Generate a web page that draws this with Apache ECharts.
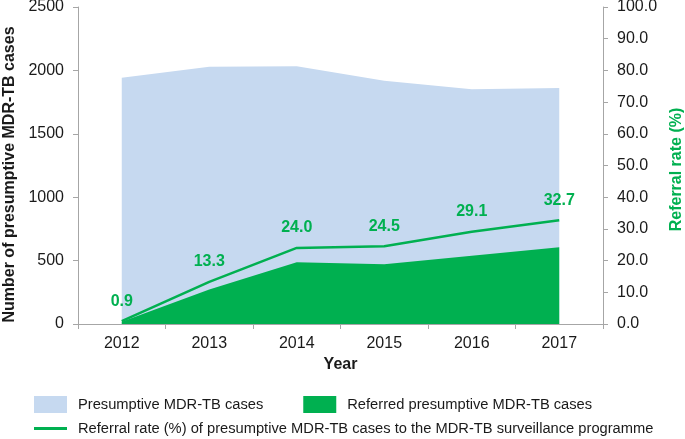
<!DOCTYPE html>
<html><head><meta charset="utf-8">
<script src="https://cdn.jsdelivr.net/npm/echarts@6/dist/echarts.min.js"></script>
<style>html,body{margin:0;padding:0;background:#fff}#c{width:685px;height:439px}</style>
</head><body><div id="c"></div>
<script>
const years = ['2012','2013','2014','2015','2016','2017'];
const presumptive = [1942, 2029, 2032, 1919, 1851, 1861];
const referred = [18, 272, 487, 472, 539, 606];
const referralRate = [0.9, 13.3, 24.0, 24.5, 29.1, 32.7];
const leftTicks = {min: 0, max: 2500, interval: 500};
const rightTicks = {min: 0, max: 100, interval: 10};

const FONT = 'Liberation Sans, Arial, sans-serif';
const BLUE = '#c6d9f0', GREEN = '#00b050', AX = '#a6a6a6', TXT = '#1a1a1a';
const chart = echarts.init(document.getElementById('c'), null, {renderer: 'canvas'});
chart.setOption({
  animation: false,
  textStyle: {fontFamily: FONT},
  grid: {left: 78, right: 82, top: 7, bottom: 115, containLabel: false, outerBoundsMode: 'none'},
  legend: [
    {left: 34, top: 396, padding: 0, itemWidth: 33, itemHeight: 17, itemGap: 40, icon: 'rect',
     textStyle: {fontFamily: FONT, fontSize: 14.7, color: TXT, padding: [0,0,0,6]},
     data: ['Presumptive MDR-TB cases', 'Referred presumptive MDR-TB cases']},
    {left: 34, top: 421, padding: 0, itemWidth: 33, itemHeight: 3, icon: 'rect',
     textStyle: {fontFamily: FONT, fontSize: 14.7, color: TXT, padding: [0,0,0,6]},
     data: ['Referral rate (%) of presumptive MDR-TB cases to the MDR-TB surveillance programme']}
  ],
  xAxis: {
    type: 'category', data: years, boundaryGap: true,
    name: 'Year', nameLocation: 'middle', nameGap: 31,
    nameTextStyle: {fontFamily: FONT, fontSize: 16, fontWeight: 'bold', color: TXT},
    axisLine: {lineStyle: {color: AX, width: 1}},
    axisTick: {show: true, length: 5, lineStyle: {color: AX}},
    axisLabel: {fontFamily: FONT, fontSize: 16, color: TXT, margin: 12}
  },
  yAxis: [
    {type: 'value', position: 'left', min: leftTicks.min, max: leftTicks.max, interval: leftTicks.interval,
     name: 'Number of presumptive MDR-TB cases', nameLocation: 'middle', nameGap: 55, nameRotate: 90,
     nameTextStyle: {fontFamily: FONT, fontSize: 16, fontWeight: 'bold', color: TXT, padding: [0, 18, 0, 0]},
     axisLine: {show: true, lineStyle: {color: AX}},
     axisTick: {show: true, length: 5, lineStyle: {color: AX}},
     splitLine: {show: false},
     axisLabel: {fontFamily: FONT, fontSize: 16, color: TXT, margin: 14, formatter: v => String(v)}},
    {type: 'value', position: 'right', min: rightTicks.min, max: rightTicks.max, interval: rightTicks.interval,
     name: 'Referral rate (%)', nameLocation: 'middle', nameGap: 66, nameRotate: 90,
     nameTextStyle: {fontFamily: FONT, fontSize: 16, fontWeight: 'bold', color: GREEN, padding: [0, 8, 0, 0]},
     axisLine: {show: true, lineStyle: {color: AX}},
     axisTick: {show: true, length: 5, lineStyle: {color: AX}},
     splitLine: {show: false},
     axisLabel: {fontFamily: FONT, fontSize: 16, color: TXT, margin: 14, formatter: v => v.toFixed(1)}}
  ],
  series: [
    {name: 'Presumptive MDR-TB cases', type: 'line', yAxisIndex: 0, data: presumptive,
     symbol: 'none', lineStyle: {width: 0}, itemStyle: {color: BLUE}, areaStyle: {color: BLUE, opacity: 1}, z: 1},
    {name: 'Referred presumptive MDR-TB cases', type: 'line', yAxisIndex: 0, data: referred,
     symbol: 'none', lineStyle: {width: 0}, itemStyle: {color: GREEN}, areaStyle: {color: GREEN, opacity: 1}, z: 2},
    {name: 'Referral rate (%) of presumptive MDR-TB cases to the MDR-TB surveillance programme',
     type: 'line', yAxisIndex: 1, data: referralRate, symbol: 'circle', symbolSize: 0, showSymbol: true,
     lineStyle: {width: 2.5, color: GREEN}, itemStyle: {color: GREEN}, z: 3,
     label: {show: true, position: 'top', distance: 12, fontFamily: FONT, fontSize: 16, fontWeight: 'bold', color: GREEN,
       formatter: p => p.value.toFixed(1)}}
  ]
});
</script></body></html>
